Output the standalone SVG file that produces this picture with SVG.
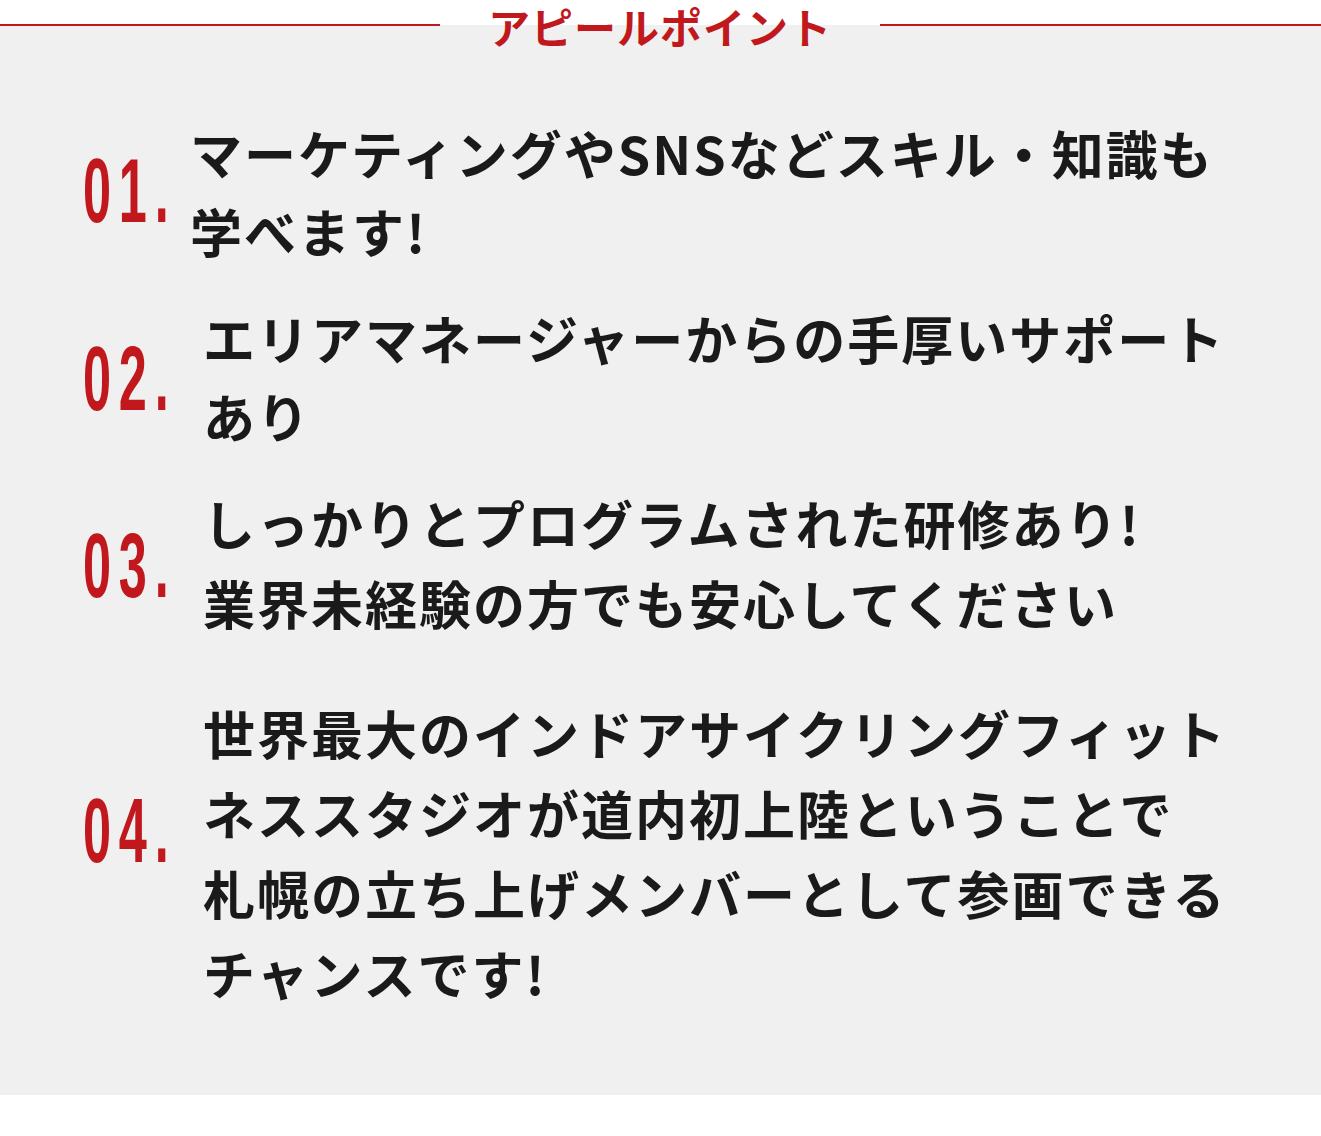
<svg xmlns="http://www.w3.org/2000/svg" width="1321" height="1136" viewBox="0 0 1321 1136">
<style>
.t{font-family:"Noto Sans CJK JP","Noto Sans",sans-serif;font-weight:700;font-size:52px;letter-spacing:2px;fill:#1a1a1a}
.n{font-family:"Liberation Sans",sans-serif;font-weight:700;font-size:90px;fill:#c0181d;letter-spacing:14px}
.h{font-family:"Noto Sans CJK JP",sans-serif;font-weight:700;font-size:42px;fill:#c0181d;letter-spacing:1px}
</style>
<rect width="1321" height="1136" fill="#fff"/>
<rect x="0" y="25" width="1321" height="1070" fill="#f0f0f0"/>
<g id="title">
<line x1="0" y1="25" x2="440" y2="25" stroke="#c0181d" stroke-width="2"/>
<line x1="880" y1="25" x2="1321" y2="25" stroke="#c0181d" stroke-width="2"/>
<rect x="440" y="25" width="440" height="25" fill="#f0f0f0"/>
<text class="h" x="660" y="44" text-anchor="middle">アピールポイント</text>
</g>
<g id="p1">
<text class="n" transform="translate(83,222) scale(0.56,1)">01.</text>
<text class="t" x="190" y="175">マーケティングやSNSなどスキル・知識も</text>
<text class="t" x="190" y="253">学べます!</text>
</g>
<g id="p2">
<text class="n" transform="translate(83,410) scale(0.56,1)">02.</text>
<text class="t" x="203" y="360">エリアマネージャーからの手厚いサポート</text>
<text class="t" x="203" y="438">あり</text>
</g>
<g id="p3">
<text class="n" transform="translate(83,597) scale(0.56,1)">03.</text>
<text class="t" x="203" y="545">しっかりとプログラムされた研修あり!</text>
<text class="t" x="203" y="625">業界未経験の方でも安心してください</text>
</g>
<g id="p4">
<text class="n" transform="translate(83,862) scale(0.56,1)">04.</text>
<text class="t" x="203" y="755">世界最大のインドアサイクリングフィット</text>
<text class="t" x="203" y="835">ネススタジオが道内初上陸ということで</text>
<text class="t" x="203" y="915">札幌の立ち上げメンバーとして参画できる</text>
<text class="t" x="203" y="995">チャンスです!</text>
</g>
</svg>
